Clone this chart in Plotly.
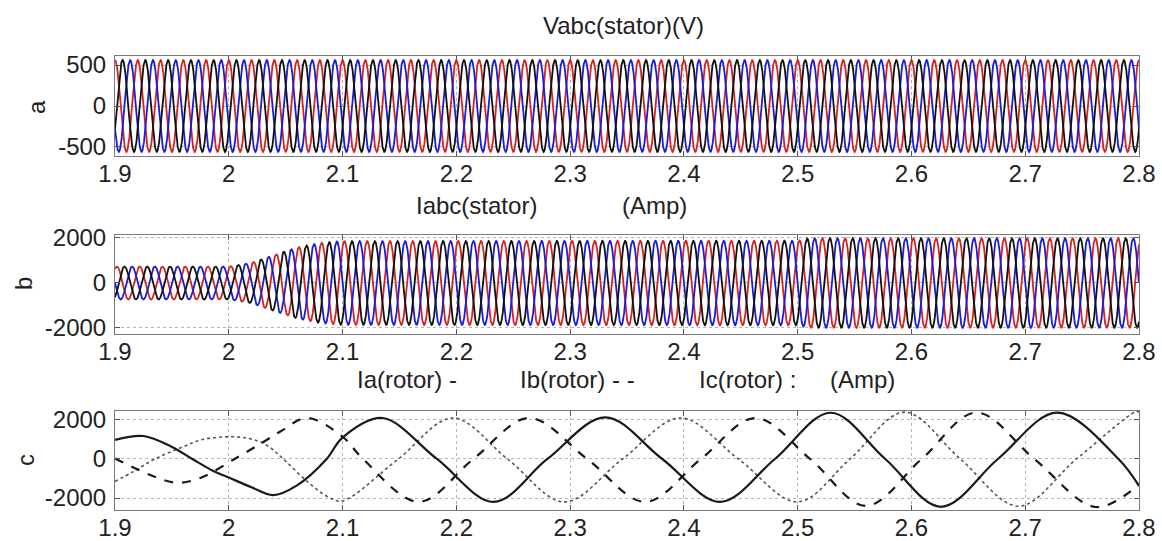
import numpy as np
import plotly.graph_objects as go

# ---------------- data ----------------
t_start, t_end = 1.9, 2.8
f_stator = 50.0                       # Hz, stator frequency

# (a) stator voltage envelope
vs_env_t = [1.9, 2.8]
vs_env_amp = [560, 560]

# (b) stator current envelope
is_env_t = [1.9, 2.0, 2.02, 2.04, 2.06, 2.08, 2.1, 2.5, 2.51, 2.8]
is_env_amp = [730, 730, 900, 1250, 1580, 1780, 1860, 1880, 1990, 1990]

# phase angles (deg) of the three stator traces
phase_colors = ["#d42323", "#1c1cd6", "#111111"]
vs_phase_deg = [90, 210, -30]
is_phase_deg = [60, 180, -60]

# (c) rotor currents: points (time, value)
ia_t = [1.9, 1.925, 1.95, 1.968, 1.986, 2.0, 2.02, 2.039, 2.06, 2.086, 2.1, 2.135, 2.183,
        2.233, 2.28, 2.331, 2.381, 2.432, 2.48, 2.529, 2.577, 2.626, 2.676, 2.728, 2.782, 2.8]
ia_v = [975, 1180, 620, 0, -600, -950, -1450, -1850, -1350, 0, 1100, 2100, 0,
        -2200, 0, 2130, 0, -2200, 0, 2370, 0, -2450, 0, 2380, 0, -1380]
ib_t = [1.9, 1.931, 1.954, 1.975, 2.005, 2.029, 2.045, 2.069, 2.1, 2.118, 2.167, 2.215,
        2.264, 2.315, 2.366, 2.415, 2.463, 2.511, 2.56, 2.609, 2.657, 2.708, 2.762, 2.8]
ib_v = [30, -820, -1215, -970, 0, 820, 1400, 2100, 1140, 0, -2200, 0,
        2100, 0, -2200, 0, 2100, 0, -2400, 0, 2380, 0, -2460, -1300]
ic_t = [1.9, 1.916, 1.935, 1.96, 1.975, 1.995, 2.016, 2.033, 2.048, 2.069, 2.089, 2.1,
        2.149, 2.197, 2.245, 2.295, 2.346, 2.397, 2.448, 2.5, 2.546, 2.594, 2.643, 2.694,
        2.745, 2.797, 2.8]
ic_v = [-1150, -650, 0, 630, 970, 1130, 1070, 720, 0, -1160, -2000, -2150,
        0, 2100, 0, -2200, 0, 2100, 0, -2200, 0, 2400, 0, -2420,
        0, 2420, 2410]

x_ticks = [1.9, 2.0, 2.1, 2.2, 2.3, 2.4, 2.5, 2.6, 2.7, 2.8]
x_ticktext = ["1.9", "2", "2.1", "2.2", "2.3", "2.4", "2.5", "2.6", "2.7", "2.8"]
a_ticks = [-500, 0, 500]
bc_ticks = [-2000, 0, 2000]

titles = ["Vabc(stator)(V)", "Iabc(stator)", "(Amp)",
          "Ia(rotor) -", "Ib(rotor) - -", "Ic(rotor) :", "(Amp)"]
ylabels = ["a", "b", "c"]

# ---------------- build figure ----------------
W, H = 1162, 541
FONT = "Liberation Sans, Arial, sans-serif"
TXT = "#222222"


def px(x):
    return x / W


def py(y):
    return 1 - y / H


t = np.linspace(t_start, t_end, 6000)
vs_env = np.interp(t, vs_env_t, vs_env_amp)
is_env = np.interp(t, is_env_t, is_env_amp)

fig = go.Figure()
for k in range(3):
    fig.add_trace(go.Scatter(
        x=t, y=vs_env * np.sin(2 * np.pi * f_stator * t + np.deg2rad(vs_phase_deg[k])),
        mode="lines", line=dict(color=phase_colors[k], width=1.8),
        xaxis="x", yaxis="y", showlegend=False, hoverinfo="skip"))
for k in range(3):
    fig.add_trace(go.Scatter(
        x=t, y=is_env * np.sin(2 * np.pi * f_stator * t + np.deg2rad(is_phase_deg[k])),
        mode="lines", line=dict(color=phase_colors[k], width=1.8),
        xaxis="x2", yaxis="y2", showlegend=False, hoverinfo="skip"))

fig.add_trace(go.Scatter(x=ic_t, y=ic_v, mode="lines",
                         line=dict(color="#555555", width=1.6, dash="dot", shape="spline"),
                         xaxis="x3", yaxis="y3", showlegend=False))
fig.add_trace(go.Scatter(x=ib_t, y=ib_v, mode="lines",
                         line=dict(color="#1a1a1a", width=2.2, dash="dash", shape="spline"),
                         xaxis="x3", yaxis="y3", showlegend=False))
fig.add_trace(go.Scatter(x=ia_t, y=ia_v, mode="lines",
                         line=dict(color="#1a1a1a", width=2.2, shape="spline"),
                         xaxis="x3", yaxis="y3", showlegend=False))


def ydom(top_px, bot_px):
    return [py(bot_px), py(top_px)]


xdom = [px(115), px(1139)]
common_x = dict(domain=xdom, range=[t_start, t_end], tickvals=x_ticks, ticktext=x_ticktext,
                showline=True, linecolor="#7a7a7a", linewidth=1, mirror="ticks",
                ticks="inside", ticklen=5, tickcolor="#555555",
                showgrid=True, gridcolor="#b5b5b5", griddash="dot", gridwidth=1,
                zeroline=False, tickfont=dict(family=FONT, size=24, color=TXT),
                ticklabelstandoff=-4, automargin=False)
common_y = dict(showline=True, linecolor="#7a7a7a", linewidth=1, mirror="ticks",
                ticks="inside", ticklen=5, tickcolor="#555555",
                showgrid=True, gridcolor="#b5b5b5", griddash="dot", gridwidth=1,
                zeroline=False, tickfont=dict(family=FONT, size=24, color=TXT),
                ticklabelstandoff=3, automargin=False)

fig.update_layout(
    width=W, height=H, margin=dict(l=0, r=0, t=0, b=0, autoexpand=False),
    paper_bgcolor="white", plot_bgcolor="white",
    xaxis=dict(anchor="y", **common_x),
    xaxis2=dict(anchor="y2", **common_x),
    xaxis3=dict(anchor="y3", **common_x),
    yaxis=dict(domain=ydom(56, 156), range=[-610, 610], tickvals=a_ticks,
               ticktext=[str(v) for v in a_ticks], anchor="x", **common_y),
    yaxis2=dict(domain=ydom(235, 334), range=[-2267, 2133], tickvals=bc_ticks,
                ticktext=[str(v) for v in bc_ticks], anchor="x2", **common_y),
    yaxis3=dict(domain=ydom(411, 510), range=[-2615, 2460], tickvals=bc_ticks,
                ticktext=[str(v) for v in bc_ticks], anchor="x3", **common_y),
)

ann = []
def txt(s, x, y, xanchor="center", angle=0):
    ann.append(dict(text=s, x=px(x), y=py(y), xref="paper", yref="paper",
                    xanchor=xanchor, yanchor="middle", showarrow=False, textangle=angle,
                    font=dict(family=FONT, size=24, color=TXT)))

txt(titles[0], 623, 26)
txt(titles[1], 414, 206, "left")
txt(titles[2], 620, 206, "left")
txt(titles[3], 355, 379, "left")
txt(titles[4], 518, 379, "left")
txt(titles[5], 697, 379, "left")
txt(titles[6], 828, 379, "left")
txt(ylabels[0], 36, 107, angle=-90)
txt(ylabels[1], 23, 284, angle=-90)
txt(ylabels[2], 25, 460, angle=-90)
fig.update_layout(annotations=ann)

fig.write_html(
    "out.html",
    config={"displayModeBar": False},
    post_script="document.documentElement.style.margin='0';"
                "document.documentElement.style.overflow='hidden';"
                "document.body.style.margin='0';document.body.style.padding='0';"
                "document.body.style.overflow='hidden';")
